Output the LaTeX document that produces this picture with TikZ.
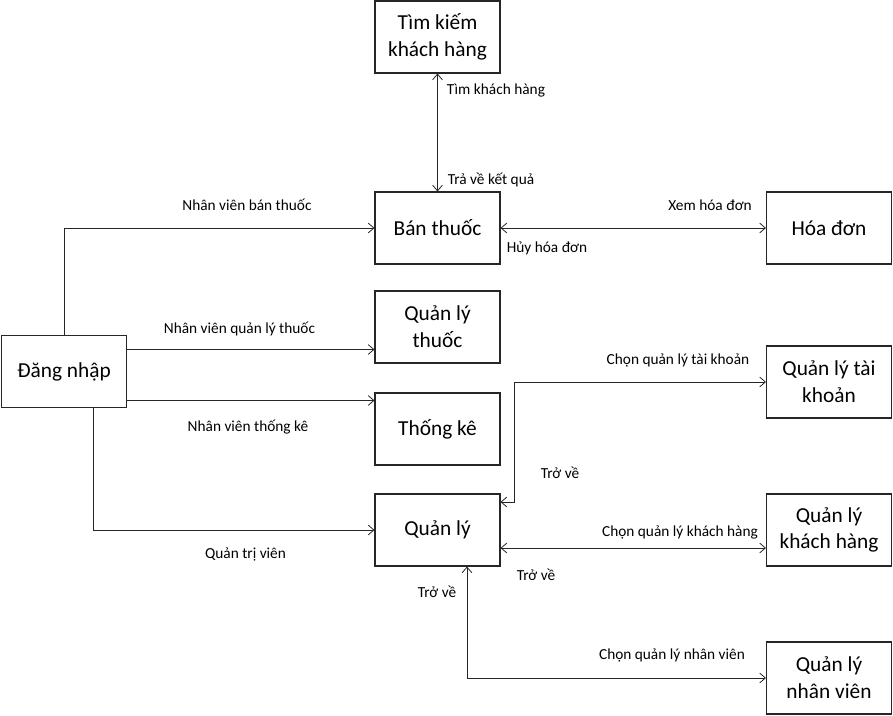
\documentclass[tikz,border=0pt]{standalone}
\usepackage{fontspec}
\setmainfont{Carlito}
\usepackage{tikz}
\usetikzlibrary{arrows.meta,positioning,calc}
\tikzset{
  fnbox/.style={draw=black!85, fill=white, align=center, line width=0.8pt,
                font=\fontsize{16}{20}\selectfont, minimum width=93.75pt, minimum height=54pt, inner sep=2pt},
  fnlbl/.style={font=\fontsize{11.5}{13}\selectfont, inner sep=1pt},
  fnarr/.style={-{Straight Barb[length=1.5mm,width=2.6mm]}, line width=0.6pt, black!85},
  fnboth/.style={{Straight Barb[length=1.5mm,width=2.6mm]}-{Straight Barb[length=1.5mm,width=2.6mm]}, line width=0.6pt, black!85}
}

\begin{document}
\begin{tikzpicture}[x=0.75pt, y=-0.75pt]
\useasboundingbox (0,0) rectangle (893,716);
% chuc nang
\node[fnbox] (timkiem) at (437.5,37) {Tìm kiếm\\khách hàng};
\node[fnbox] (banthuoc) at (437.5,228) {Bán thuốc};
\node[fnbox] (hoadon) at (829,228) {Hóa đơn};
\node[fnbox] (dangnhap) at (64,371.5) {Đăng nhập};
\node[fnbox] (qlthuoc) at (437.5,327) {Quản lý\\thuốc};
\node[fnbox] (thongke) at (437.5,429) {Thống kê};
\node[fnbox] (qltk) at (829,382) {Quản lý tài\\khoản};
\node[fnbox] (quanly) at (437.5,530) {Quản lý};
\node[fnbox] (qlkh) at (829,530) {Quản lý\\khách hàng};
\node[fnbox] (qlnv) at (829,678) {Quản lý\\nhân viên};

% dang nhap
\draw[fnarr] (dangnhap.north) |- (banthuoc.west);
\draw[fnarr] ($(dangnhap.east)+(0,-22)$) -- ($(qlthuoc.west)+(0,22.5)$);
\draw[fnarr] ($(dangnhap.east)+(0,29)$) -- ($(thongke.west)+(0,-28.5)$);
\draw[fnarr] ($(dangnhap.south)+(29.5,0)$) |- (quanly.west);
\node[fnlbl] (lblban) at (247,205) {Nhân viên bán thuốc};
\node[fnlbl] (lblqlt) at (239.5,329) {Nhân viên quản lý thuốc};
\node[fnlbl] (lbltk) at (248,427) {Nhân viên thống kê};
\node[fnlbl] (lblqtv) at (245.5,554) {Quản trị viên};

% ban thuoc
\draw[fnboth] (timkiem) -- (banthuoc);
\draw[fnboth] (banthuoc) -- (hoadon);
\node[fnlbl] (lbltim) at (496,90) {Tìm khách hàng};
\node[fnlbl] (lbltra) at (491,180) {Trả về kết quả};
\node[fnlbl] (lblxem) at (710,205) {Xem hóa đơn};
\node[fnlbl] (lblhuy) at (547,248) {Hủy hóa đơn};

% quan ly
\draw[fnboth] ($(quanly.east)+(0,-28)$) -- ++(14,0) |- (qltk.west);
\draw[fnboth] ($(quanly.east)+(0,18)$) -- ($(qlkh.west)+(0,18)$);
\draw[fnboth] ($(quanly.south)+(29.5,0)$) |- (qlnv.west);
\node[fnlbl] (lblctk) at (678,360) {Chọn quản lý tài khoản};
\node[fnlbl] (lbltv1) at (560,473) {Trở về};
\node[fnlbl] (lblckh) at (680,532) {Chọn quản lý khách hàng};
\node[fnlbl] (lbltv2) at (536,575) {Trở về};
\node[fnlbl] (lblcnv) at (672,655) {Chọn quản lý nhân viên};
\node[fnlbl] (lbltv3) at (437,592) {Trở về};
\end{tikzpicture}
\end{document}
